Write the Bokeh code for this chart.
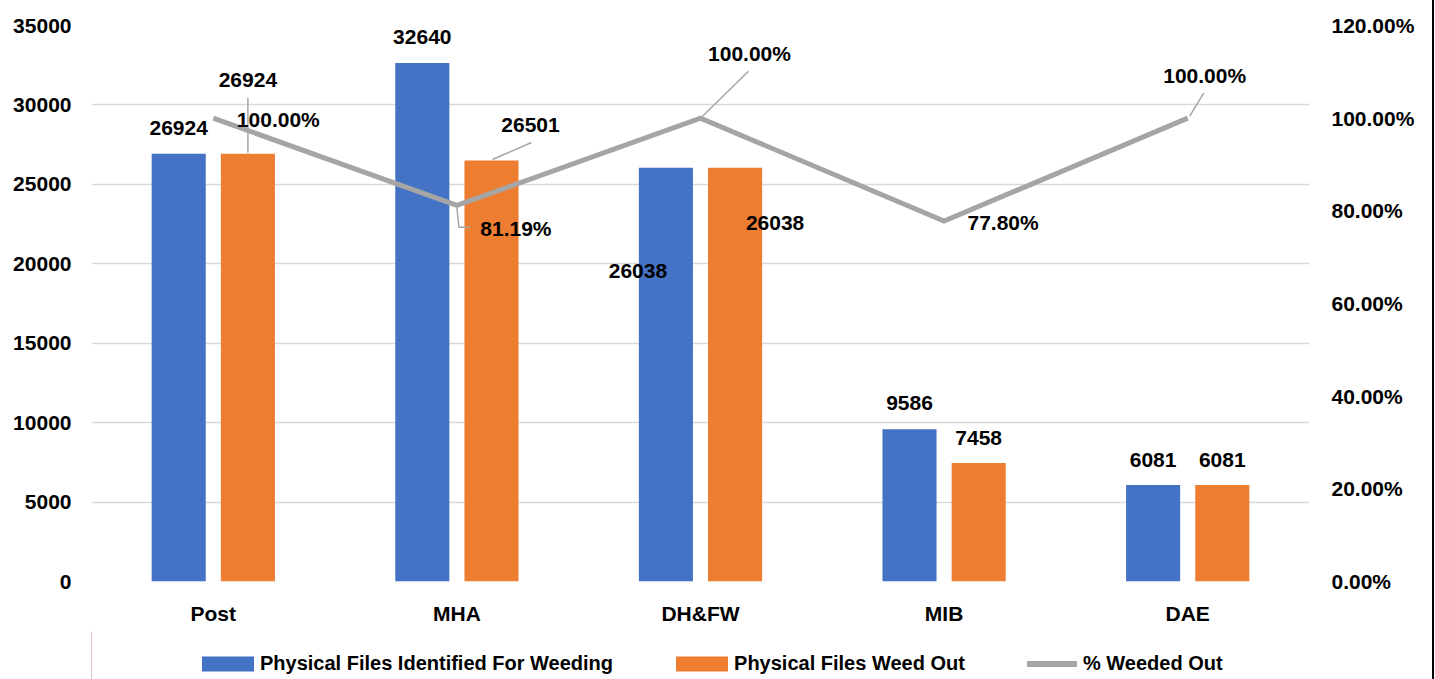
from bokeh.plotting import figure
from bokeh.layouts import column
from bokeh.models import (Range1d, LinearAxis, FixedTicker, NumeralTickFormatter,
                          Legend, LegendItem, ColumnDataSource)
from bokeh.core.properties import value
from bokeh.embed import file_html
from bokeh.resources import INLINE

categories = ["Post", "MHA", "DH&FW", "MIB", "DAE"]
identified = [26924, 32640, 26038, 9586, 6081]
weed_out = [26924, 26501, 26038, 7458, 6081]
pct_weeded = [1.0, 0.8119, 1.0, 0.7780, 1.0]
left_ticks = [0, 5000, 10000, 15000, 20000, 25000, 30000, 35000]
right_ticks = [0.0, 0.2, 0.4, 0.6, 0.8, 1.0, 1.2]
series_names = ["Physical Files Identified For Weeding", "Physical Files Weed Out", "% Weeded Out"]

BLUE = "#4472C4"
ORANGE = "#ED7D31"
GRAY = "#A5A5A5"
FONT = "Liberation Sans"

ML, MR, MT, MB = 91, 123, 25, 50
FW, FH = 1218, 556
XMIN, XMAX = -0.5, 4.5
YMAX = 35000
PMAX = 1.2
px_x = (XMAX - XMIN) / FW
px_y = YMAX / FH
px_p = PMAX / FH

OFF = 0.142
BW = 0.222

p = figure(frame_width=FW, frame_height=FH, output_backend="svg", toolbar_location=None,
           x_range=Range1d(XMIN, XMAX), y_range=Range1d(0, YMAX),
           min_border_left=ML, min_border_right=MR, min_border_top=MT,
           min_border_bottom=MB)
p.extra_y_ranges = {"pct": Range1d(0, PMAX)}
p.outline_line_color = None
p.xgrid.grid_line_color = None
p.ygrid.grid_line_color = "#D9D9D9"
p.ygrid.grid_line_width = 1.5

xs = list(range(len(categories)))
xb = [x - OFF for x in xs]
xo = [x + OFF for x in xs]

src_b = ColumnDataSource(dict(x=xb, top=identified))
src_o = ColumnDataSource(dict(x=xo, top=weed_out))
src_l = ColumnDataSource(dict(x=xs, y=pct_weeded))

bar_b = dict(fill_color=BLUE, line_color=None)
bar_o = dict(fill_color=ORANGE, line_color=None)
line_s = dict(line_color=GRAY, line_width=5, line_join="miter")

p.vbar(x="x", top="top", width=BW, source=src_b, **bar_b)
p.vbar(x="x", top="top", width=BW, source=src_o, **bar_o)
p.line(x="x", y="y", source=src_l, y_range_name="pct", **line_s)

# axes
p.xaxis.ticker = FixedTicker(ticks=xs)
p.xaxis.major_label_overrides = {i: c for i, c in enumerate(categories)}
p.yaxis.ticker = FixedTicker(ticks=left_ticks)
ra = LinearAxis(y_range_name="pct", ticker=FixedTicker(ticks=right_ticks),
                formatter=NumeralTickFormatter(format="0.00%"))
p.add_layout(ra, "right")
for ax, so in [(p.xaxis[0], 14), (p.yaxis[0], 14), (ra, 16)]:
    ax.axis_line_color = None
    ax.major_tick_line_color = None
    ax.minor_tick_line_color = None
    ax.major_label_text_font = FONT
    ax.major_label_text_font_size = "21px"
    ax.major_label_text_font_style = "bold"
    ax.major_label_text_color = "#000000"
    ax.major_label_standoff = so

# leader lines (pixel offsets relative to anchors)
def leader(ax, ay, pts, sy):
    return [ax + dx * px_x for dx, dy in pts], [ay - dy * sy for dx, dy in pts]

bar_leads = [leader(xo[0], weed_out[0], [(0, -1), (0, -56)], px_y),
             leader(xo[1], weed_out[1], [(1, -1), (40, -18)], px_y)]
p.multi_line(xs=[l[0] for l in bar_leads], ys=[l[1] for l in bar_leads],
             line_color="#A6A6A6", line_width=1.5)
line_leads = [leader(xs[1], pct_weeded[1], [(0, 2), (2, 22), (13, 22)], px_p),
              leader(xs[2], pct_weeded[2], [(2, -2), (48, -47)], px_p),
              leader(xs[4], pct_weeded[4], [(2, -2), (16, -25)], px_p)]
p.multi_line(xs=[l[0] for l in line_leads], ys=[l[1] for l in line_leads],
             line_color="#A6A6A6", line_width=1.5, y_range_name="pct")

# data labels
b_off = [(0, -26), (0, -26), (-28, 103), (0, -26), (0, -25)]
o_off = [(0, -74), (39, -36), (40, 55), (0, -25), (0, -25)]
l_off = [(65, 1), (59, 23), (49, -65), (59, 1), (17, -43)]

def labels(xv, yv, texts, offs, **kw):
    s = ColumnDataSource(dict(x=xv, y=yv, t=texts,
                              dx=[o[0] for o in offs], dy=[o[1] for o in offs]))
    p.text(x="x", y="y", text="t", x_offset="dx", y_offset="dy", source=s,
           text_font=value(FONT), text_font_size="21px", text_font_style="bold",
           text_color="#000000", text_align="center", text_baseline="middle", **kw)

labels(xb, identified, [str(v) for v in identified], b_off)
labels(xo, weed_out, [str(v) for v in weed_out], o_off)
labels(xs, pct_weeded, [f"{v * 100:.2f}%" for v in pct_weeded], l_off, y_range_name="pct")

# legend strip (keys drawn from renderers placed outside the visible range)
LH = 48
q = figure(frame_width=FW, frame_height=LH, output_backend="svg", toolbar_location=None,
           x_range=Range1d(0, 1), y_range=Range1d(0, 1),
           min_border_left=ML, min_border_right=MR, min_border_top=0, min_border_bottom=0)
q.axis.visible = False
q.grid.visible = False
q.outline_line_color = None
lb = q.vbar(x=[-5], top=[1], width=0.1, **bar_b)
lo = q.vbar(x=[-5], top=[1], width=0.1, **bar_o)
ll = q.line(x=[-6, -5], y=[0.5, 0.5], line_color=GRAY, line_width=6, line_cap="round")

common = dict(orientation="horizontal", label_text_font=FONT, label_text_font_size="20px",
              label_text_font_style="bold", label_text_color="#000000",
              border_line_color=None, background_fill_alpha=0, padding=0, margin=0)
legend1 = Legend(items=[LegendItem(label=series_names[0], renderers=[lb]),
                        LegendItem(label=series_names[1], renderers=[lo])],
                 location=(104, 4), glyph_width=65, glyph_height=19, spacing=56,
                 label_standoff=0, **common)
legend2 = Legend(items=[LegendItem(label=series_names[2], renderers=[ll])],
                 location=(936, 4), glyph_width=50, glyph_height=19,
                 label_standoff=6, **common)
q.add_layout(legend1, "center")
q.add_layout(legend2, "center")

page = column(p, q, spacing=0)
page.styles = {"border-right": "2px solid #000"}
open("out.html", "w").write(file_html(page, INLINE))
